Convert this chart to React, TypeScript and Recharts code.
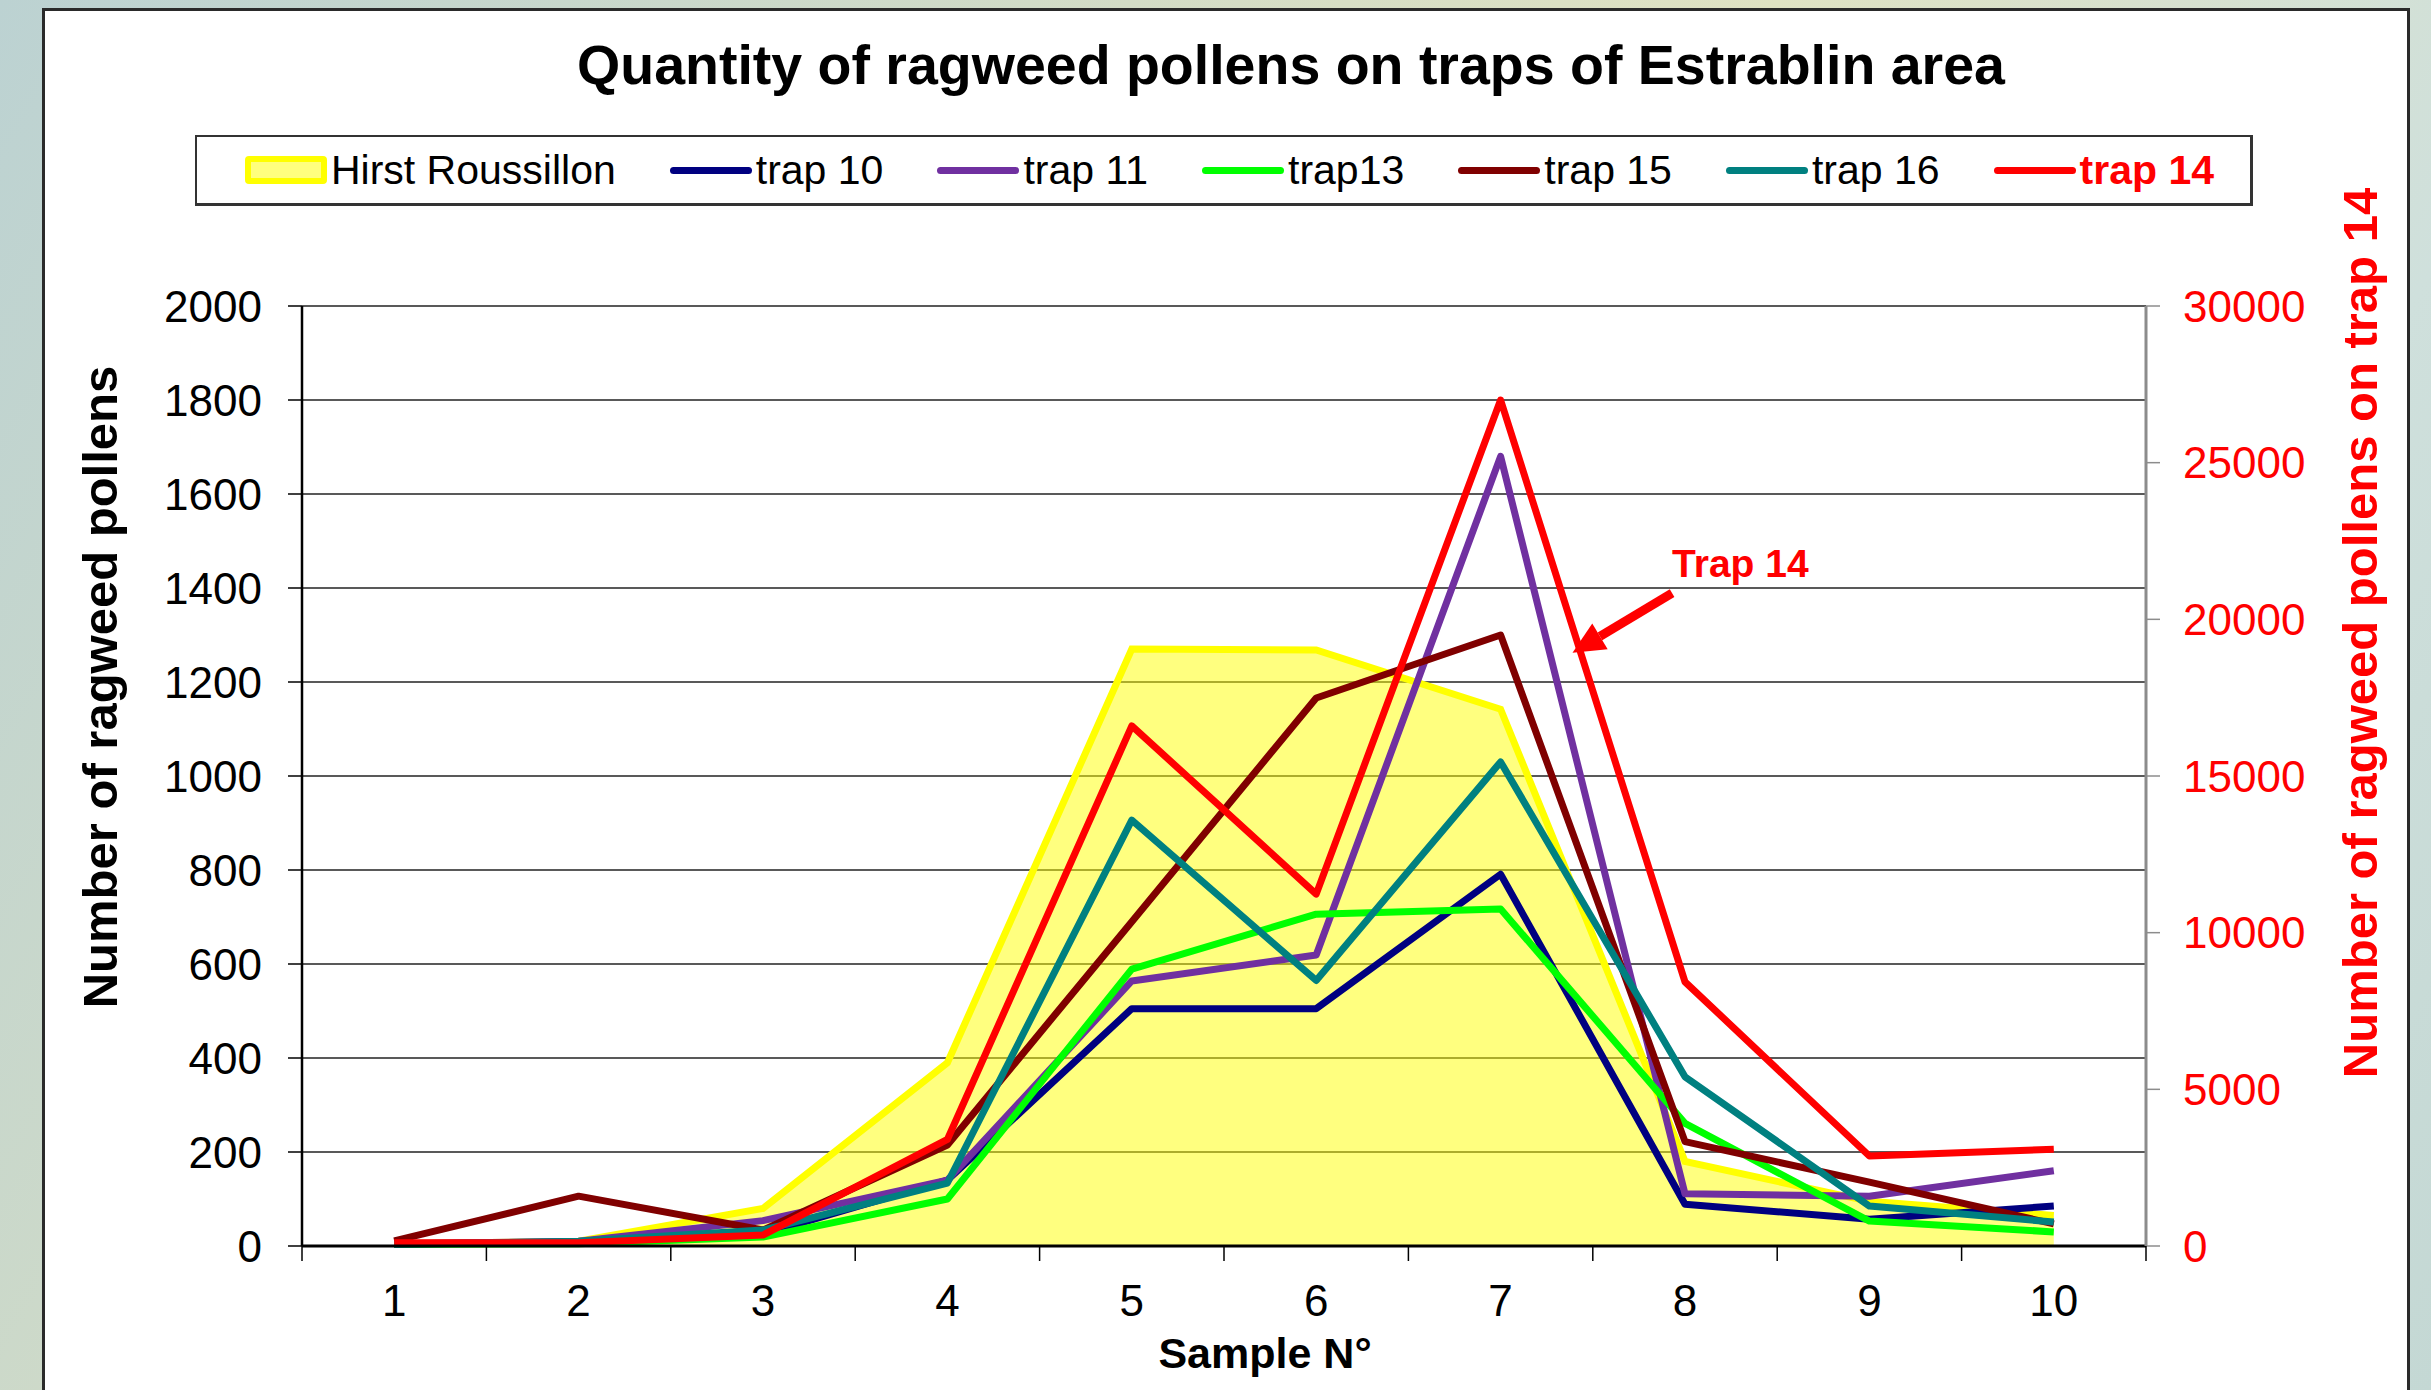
import React from 'react';
import {
  ComposedChart,
  Line,
  Area,
  XAxis,
  YAxis,
  CartesianGrid,
  Legend,
  ReferenceLine,
  Customized,
} from 'recharts';

// ---------- data ----------
const samples = [1, 2, 3, 4, 5, 6, 7, 8, 9, 10];
const hirstRoussillon = [5, 10, 80, 390, 1270, 1268, 1142, 180, 95, 65];
const trap10 = [5, 8, 25, 140, 505, 505, 791, 89, 57, 85];
const trap11 = [5, 10, 54, 140, 564, 619, 1680, 111, 106, 160];
const trap13 = [3, 5, 19, 100, 589, 706, 717, 261, 53, 30];
const trap15 = [11, 106, 34, 215, 690, 1166, 1300, 222, 136, 47];
const trap16 = [3, 10, 34, 134, 906, 565, 1030, 360, 85, 51];
const trap14 = [100, 100, 350, 3400, 16600, 11230, 27000, 8430, 2870, 3090];

const xTicks = [0.5, 1, 1.5, 2, 2.5, 3, 3.5, 4, 4.5, 5, 5.5, 6, 6.5, 7, 7.5, 8, 8.5, 9, 9.5, 10, 10.5];
const leftTicks = [0, 200, 400, 600, 800, 1000, 1200, 1400, 1600, 1800, 2000];
const rightTicks = [0, 5000, 10000, 15000, 20000, 25000, 30000];

// annotation arrow ("Trap 14"), in data coordinates: tail then head
const arrowSegment = [
  { x: 7.93, y: 1389 },
  { x: 7.39, y: 1262 },
];

const data = samples.map((s, i) => ({
  sample: s,
  hirst: hirstRoussillon[i],
  trap10: trap10[i],
  trap11: trap11[i],
  trap13: trap13[i],
  trap15: trap15[i],
  trap16: trap16[i],
  trap14: trap14[i],
}));

const lineSeries = [
  { key: 'trap10', name: 'trap 10', color: '#000080', axis: 'left' },
  { key: 'trap11', name: 'trap 11', color: '#7030A0', axis: 'left' },
  { key: 'trap13', name: 'trap13', color: '#00FF00', axis: 'left' },
  { key: 'trap15', name: 'trap 15', color: '#800000', axis: 'left' },
  { key: 'trap16', name: 'trap 16', color: '#008080', axis: 'left' },
  { key: 'trap14', name: 'trap 14', color: '#FF0000', axis: 'right' },
];

const FONT = '"Liberation Sans", Arial, sans-serif';

// ---------- pieces ----------
const XTick = (props: any) => {
  const { x, y, payload } = props;
  const v = payload.value;
  if (Number.isInteger(v)) {
    return (
      <text x={x} y={y + 70} textAnchor="middle" fontSize={44} fill="#000" fontFamily={FONT}>
        {v}
      </text>
    );
  }
  return <line x1={x} y1={y} x2={x} y2={y + 15} stroke="#000" strokeWidth={1.5} />;
};

const ArrowShape = (p: any) => {
  const { x1, y1, x2, y2 } = p;
  if ([x1, y1, x2, y2].some((v) => typeof v !== 'number' || isNaN(v))) return <g />;
  const dx = x2 - x1;
  const dy = y2 - y1;
  const len = Math.hypot(dx, dy) || 1;
  const ux = dx / len;
  const uy = dy / len;
  const headLen = 32;
  const headW = 15;
  const bx = x2 - ux * headLen;
  const by = y2 - uy * headLen;
  const px = -uy;
  const py = ux;
  return (
    <g>
      <line x1={x1} y1={y1} x2={bx} y2={by} stroke="#FF0000" strokeWidth={9} />
      <polygon
        points={`${x2},${y2} ${bx + px * headW},${by + py * headW} ${bx - px * headW},${by - py * headW}`}
        fill="#FF0000"
      />
      <text x={x1} y={y1 - 16} fontSize={39} fontWeight="bold" fill="#FF0000" fontFamily={FONT}>
        Trap 14
      </text>
    </g>
  );
};

const Texts = () => (
  <g fontFamily={FONT} fontWeight="bold">
    <text x={1248} y={75} textAnchor="middle" fontSize={55.5} fill="#000">
      Quantity of ragweed pollens on traps of Estrablin area
    </text>
    <text transform="translate(74,678) rotate(-90)" textAnchor="middle" fontSize={49} fill="#000">
      Number of ragweed pollens
    </text>
    <text transform="translate(2334,624) rotate(-90)" textAnchor="middle" fontSize={49} fill="#FF0000">
      Number of ragweed pollens on trap 14
    </text>
    <text x={1222} y={1359} textAnchor="middle" fontSize={43} fill="#000">
      Sample N°
    </text>
  </g>
);

const LegendBox = () => {
  const items = [
    { name: 'Hirst Roussillon', color: '#FFFF00', area: true },
    ...lineSeries.map((s) => ({ name: s.name, color: s.color, area: false })),
  ];
  return (
    <div
      style={{
        boxSizing: 'border-box',
        width: 2058,
        height: 71,
        border: '2px solid #333',
        borderBottomWidth: 3,
        borderRightWidth: 3,
        background: '#fff',
        display: 'flex',
        alignItems: 'center',
        justifyContent: 'center',
        paddingLeft: 12,
        fontFamily: FONT,
        fontSize: 41,
      }}
    >
      {items.map((it, i) => {
        const last = it.name === 'trap 14';
        return (
          <div
            key={it.name}
            style={{ display: 'flex', alignItems: 'center', marginRight: i === items.length - 1 ? 0 : 54 }}
          >
            {it.area ? (
              <div
                style={{
                  boxSizing: 'border-box',
                  width: 82,
                  height: 28,
                  background: 'rgba(255,255,0,0.5)',
                  border: '6px solid #FFFF00',
                  borderRadius: 4,
                }}
              />
            ) : (
              <div style={{ width: 82, height: 7, borderRadius: 4, background: it.color }} />
            )}
            <span
              style={{
                marginLeft: 4,
                color: last ? '#FF0000' : '#000',
                fontWeight: last ? 'bold' : 'normal',
                lineHeight: 1,
                whiteSpace: 'nowrap',
              }}
            >
              {it.name}
            </span>
          </div>
        );
      })}
    </div>
  );
};

export default function App() {
  return (
    <div
      style={{
        position: 'fixed',
        left: 0,
        top: 0,
        width: 2431,
        height: 1390,
        overflow: 'hidden',
        background:
          'linear-gradient(120deg, #bcd2d2 0%, #d3dcc6 35%, #dfe2c3 55%, #cfe0dc 80%, #c4d8d4 100%)',
      }}
    >
      <div
        style={{
          position: 'absolute',
          left: 42,
          top: 8,
          width: 2368,
          height: 1400,
          boxSizing: 'border-box',
          background: '#fff',
          borderLeft: '3px solid #2a2a2a',
          borderTop: '3px solid #2a2a2a',
          borderRight: '3px solid #2a2a2a',
        }}
      />
      <div style={{ position: 'absolute', left: 43, top: 9 }}>
        <ComposedChart
          width={2365}
          height={1381}
          data={data}
          margin={{ top: 297, right: 62, bottom: 44, left: 79 }}
          style={{ fontFamily: FONT }}
        >
          <CartesianGrid yAxisId="left" vertical={false} stroke="#222" strokeWidth={1.5} />
          <XAxis
            dataKey="sample"
            type="number"
            domain={[0.5, 10.5]}
            ticks={xTicks}
            interval={0}
            tickLine={false}
            tickSize={0}
            tickMargin={0}
            tick={<XTick />}
            height={100}
            axisLine={{ stroke: '#000', strokeWidth: 3 }}
          />
          <YAxis
            yAxisId="left"
            orientation="left"
            domain={[0, 2000]}
            ticks={leftTicks}
            interval={0}
            width={180}
            tickSize={14}
            tickMargin={26}
            tick={{ fontSize: 44, fill: '#000', fontFamily: FONT }}
            tickLine={{ stroke: '#000', strokeWidth: 1.5 }}
            axisLine={{ stroke: '#000', strokeWidth: 2.5 }}
          />
          <YAxis
            yAxisId="right"
            orientation="right"
            domain={[0, 30000]}
            ticks={rightTicks}
            interval={0}
            width={200}
            tickSize={14}
            tickMargin={23}
            tick={{ fontSize: 44, fill: '#FF0000', fontFamily: FONT }}
            tickLine={{ stroke: '#8c8c8c', strokeWidth: 1.5 }}
            axisLine={{ stroke: '#8c8c8c', strokeWidth: 3 }}
          />
          <Legend
            verticalAlign="middle"
            align="center"
            layout="horizontal"
            content={<LegendBox />}
            wrapperStyle={{ top: 126, left: 152, width: 2058, height: 71 }}
          />
          <Area
            yAxisId="left"
            type="linear"
            dataKey="hirst"
            name="Hirst Roussillon"
            stroke="#FFFF00"
            strokeWidth={7}
            fill="#FFFF00"
            fillOpacity={0.5}
            isAnimationActive={false}
            dot={false}
            activeDot={false}
          />
          {lineSeries.map((s) => (
            <Line
              key={s.key}
              yAxisId={s.axis}
              type="linear"
              dataKey={s.key}
              name={s.name}
              stroke={s.color}
              strokeWidth={7}
              strokeLinejoin="round"
              dot={false}
              activeDot={false}
              isAnimationActive={false}
            />
          ))}
          <ReferenceLine
            yAxisId="left"
            segment={arrowSegment}
            shape={<ArrowShape />}
            ifOverflow="visible"
          />
          <Customized component={<Texts />} />
        </ComposedChart>
      </div>
    </div>
  );
}
